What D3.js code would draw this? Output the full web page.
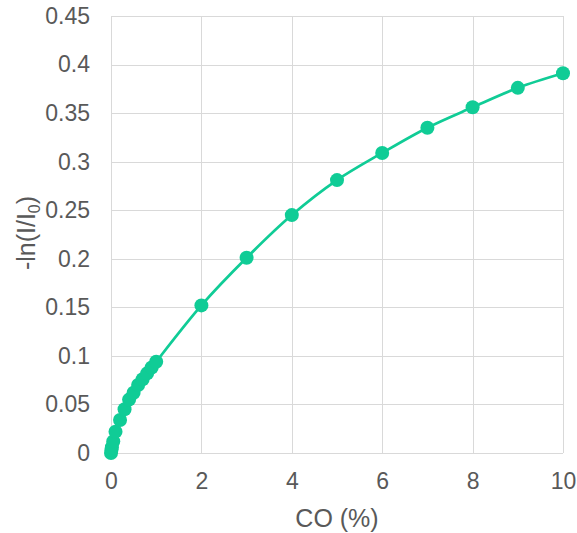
<!DOCTYPE html>
<meta charset="utf-8">
<head>
  <title>CO absorbance</title>
</head>
<body>
<style>
  html, body { margin: 0; background: #fff; }
  * { font-family: "Liberation Sans", Arial, sans-serif; }
  .grid line { stroke: #d9d9d9; stroke-width: 1px; }
  .tick text { fill: #595959; font-size: 23px; }
  .axis-title { fill: #595959; font-size: 25px; }
</style>
<script src="https://cdn.jsdelivr.net/npm/d3@7"></script>
<script>

var co = [0, 0.01, 0.02, 0.05, 0.1, 0.2, 0.3, 0.4, 0.5, 0.6, 0.7, 0.8, 0.9, 1,
          2, 3, 4, 5, 6, 7, 8, 9, 10];
var absorb = [0, 0.003, 0.006, 0.012, 0.022, 0.034, 0.045, 0.055, 0.062, 0.07, 0.076, 0.082, 0.088, 0.094,
              0.152, 0.201, 0.245, 0.281, 0.309, 0.335, 0.356, 0.376, 0.391];
var xTicks = [0, 2, 4, 6, 8, 10];
var yTicks = [0, 0.05, 0.1, 0.15, 0.2, 0.25, 0.3, 0.35, 0.4, 0.45];

var width = 577, height = 533,
    margin = {top: 16, right: 14, bottom: 80, left: 111};

var points = co.map(function(d, i) { return {x: d, y: absorb[i]}; });

var svg = d3.select("body").append("svg")
    .attr("width", width)
    .attr("height", height);

var x = d3.scaleLinear().domain([0, 10]).range([margin.left, width - margin.right]);
var y = d3.scaleLinear().domain([0, 0.45]).range([height - margin.bottom, margin.top]);

// gridlines
var grid = svg.append("g").attr("class", "grid");
grid.selectAll(".h").data(yTicks).enter().append("line")
    .attr("x1", x(0)).attr("x2", x(10))
    .attr("y1", function(d) { return Math.round(y(d)) + 0.5; })
    .attr("y2", function(d) { return Math.round(y(d)) + 0.5; });
grid.selectAll(".v").data(xTicks).enter().append("line")
    .attr("y1", y(0)).attr("y2", y(0.45))
    .attr("x1", function(d) { return Math.round(x(d)) + 0.5; })
    .attr("x2", function(d) { return Math.round(x(d)) + 0.5; });

// axes (labels only)
svg.append("g")
    .attr("transform", "translate(0," + y(0) + ")")
    .call(d3.axisBottom(x).tickValues(xTicks).tickSize(0).tickPadding(20))
    .call(function(g) { g.select(".domain").remove(); });

svg.append("g")
    .attr("transform", "translate(" + (x(0) - 10) + ",0)")
    .call(d3.axisLeft(y).tickValues(yTicks).tickSize(0).tickPadding(11)
      .tickFormat(function(d) { return d3.format("")(+d.toFixed(2)); }))
    .call(function(g) { g.select(".domain").remove(); });

// series
var line = d3.line()
    .x(function(d) { return x(d.x); })
    .y(function(d) { return y(d.y); })
    .curve(d3.curveCatmullRom);

svg.append("path")
    .datum(points)
    .attr("fill", "none")
    .attr("stroke", "#10cc96")
    .attr("stroke-width", 2.75)
    .attr("d", line);

svg.append("g").selectAll("circle")
    .data(points)
    .enter().append("circle")
    .attr("cx", function(d) { return x(d.x); })
    .attr("cy", function(d) { return y(d.y); })
    .attr("r", 7)
    .attr("fill", "#10cc96");

// axis titles
svg.append("text")
    .attr("class", "axis-title")
    .attr("x", (x(0) + x(10)) / 2)
    .attr("y", 527)
    .attr("text-anchor", "middle")
    .text("CO (%)");

var yt = svg.append("text")
    .attr("class", "axis-title")
    .attr("transform", "translate(35," + 233 + ") rotate(-90)")
    .attr("text-anchor", "middle");
yt.append("tspan").text("-ln(I/I");
yt.append("tspan").attr("font-size", "16px").attr("dy", 5).text("0");
yt.append("tspan").attr("dy", -5).text(")");

</script>
</body>
